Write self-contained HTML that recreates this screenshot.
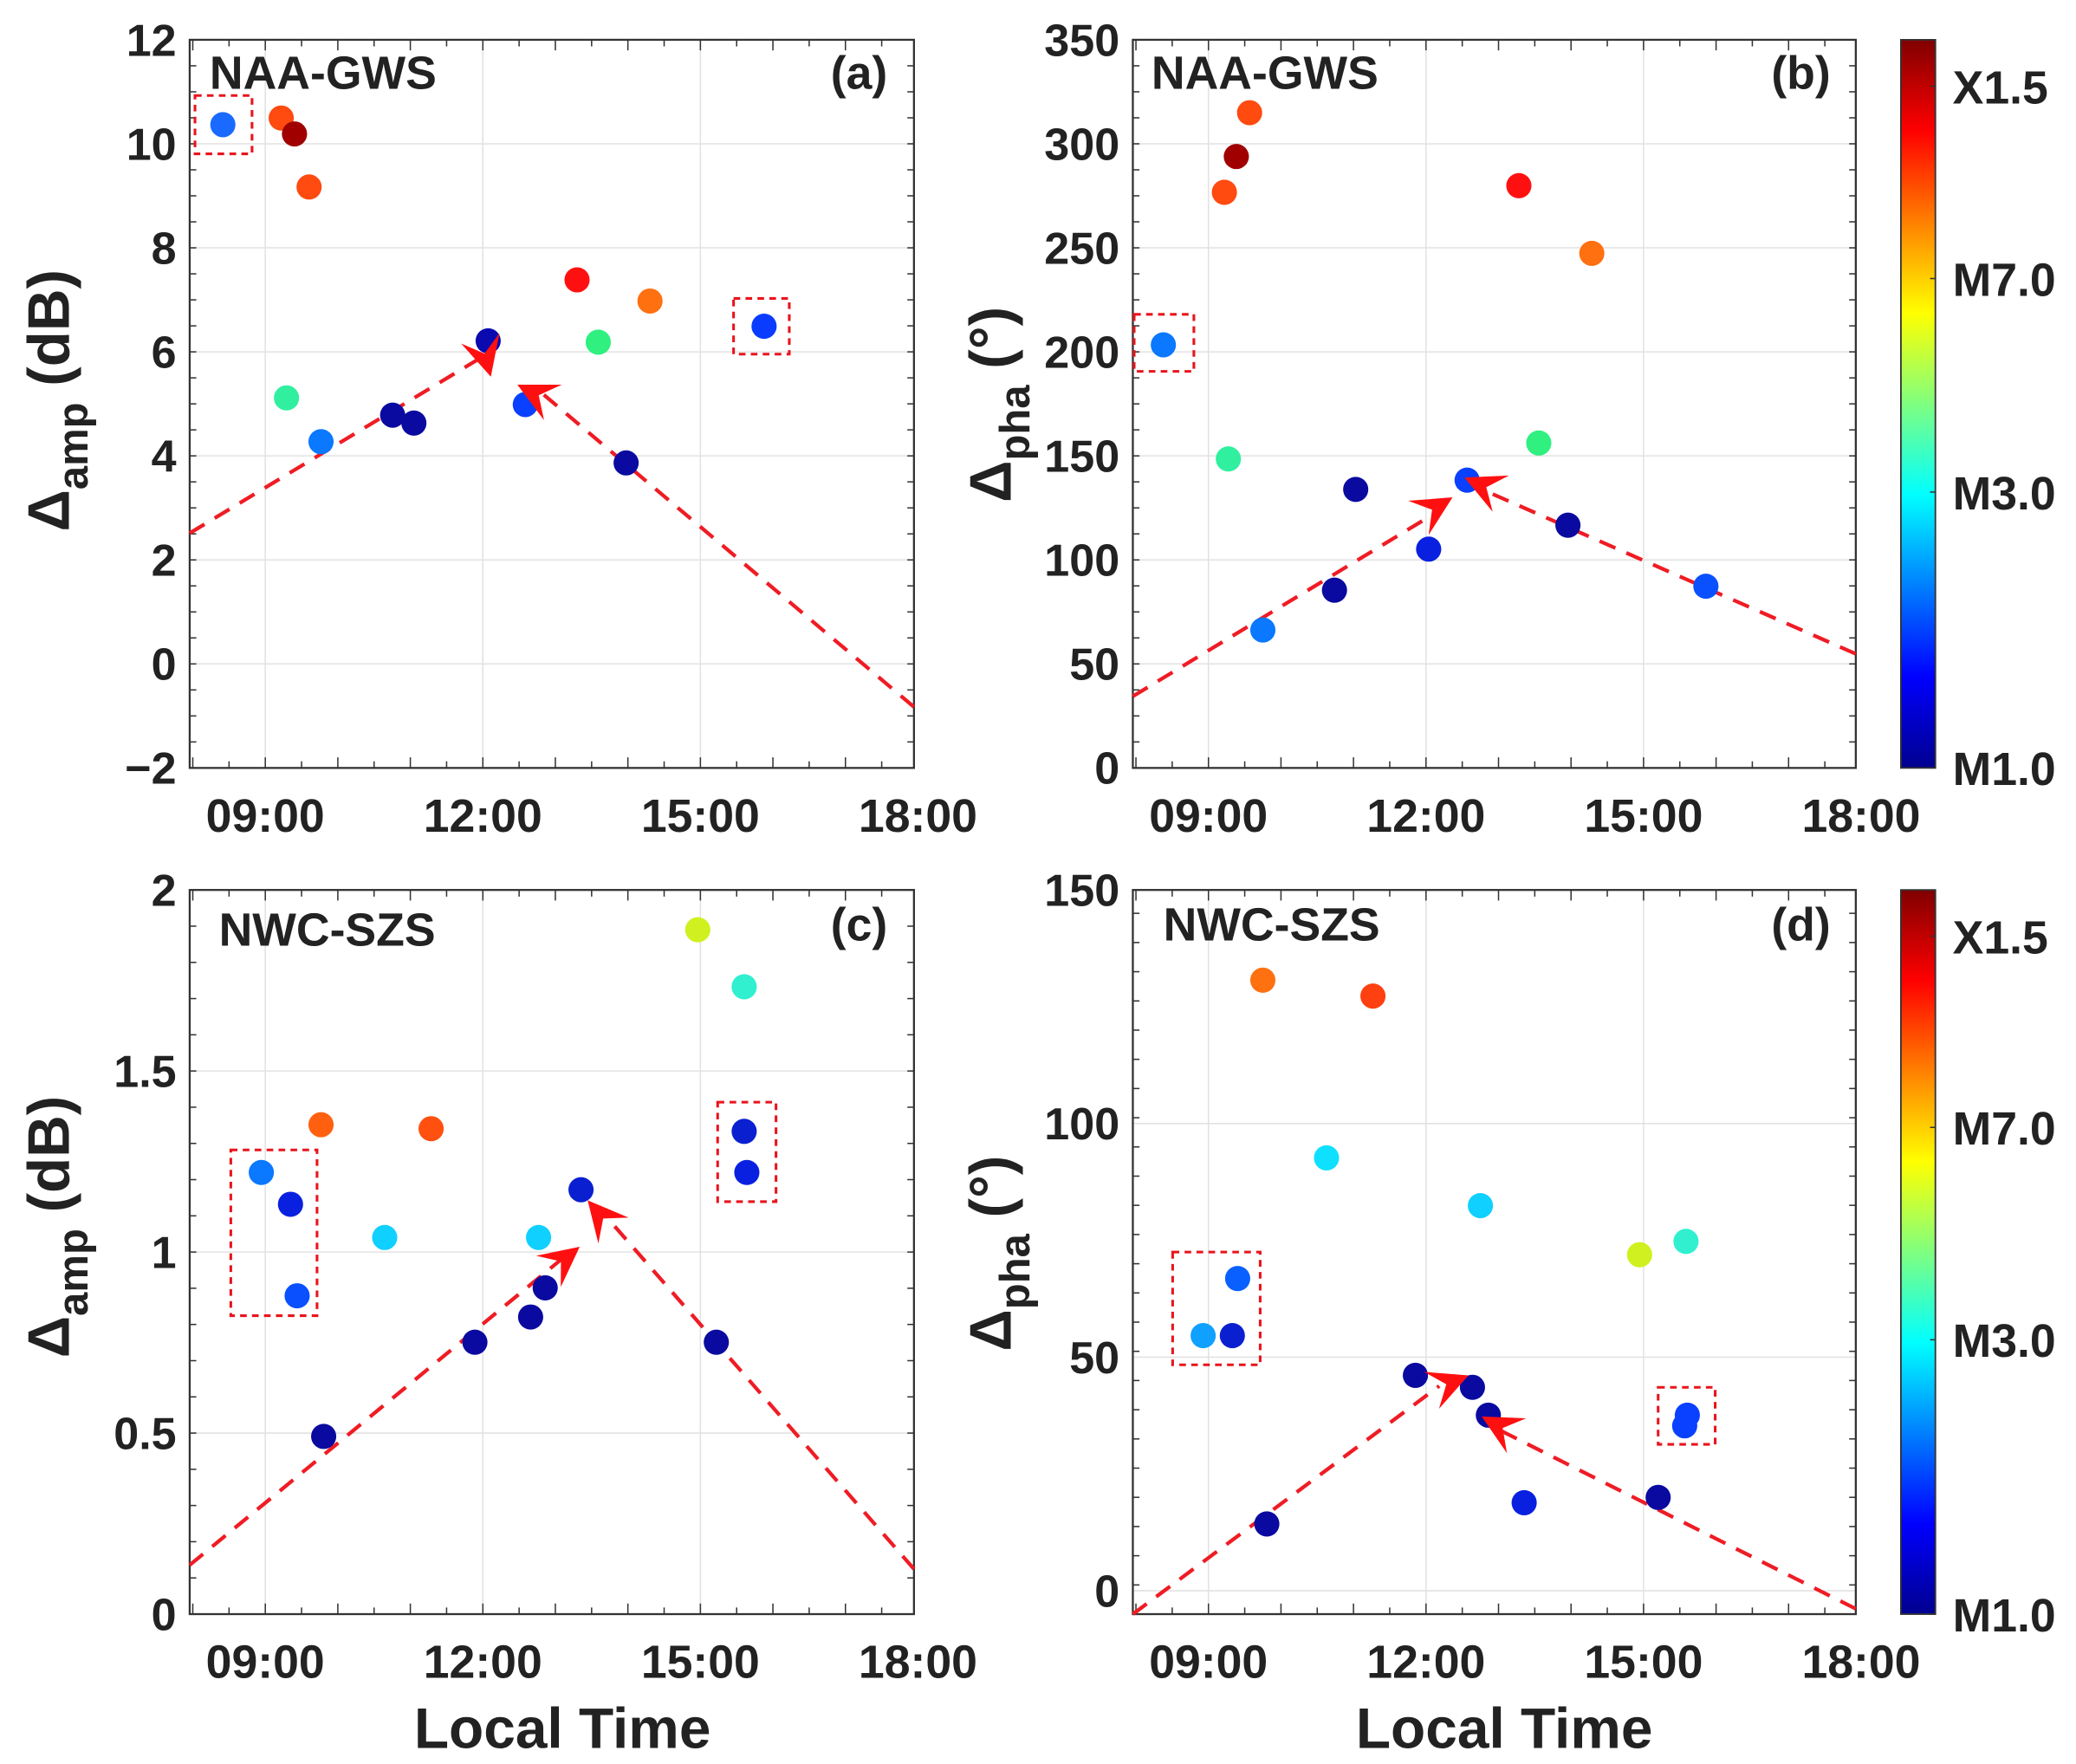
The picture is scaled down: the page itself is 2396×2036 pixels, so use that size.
<!DOCTYPE html>
<html><head><meta charset="utf-8"><style>
html,body{margin:0;padding:0;background:#fff;}
svg{display:block;}
text{font-family:"Liberation Sans",Arial,sans-serif;font-weight:bold;fill:#222;}
</style></head><body>
<svg id="s" width="2396" height="2036" viewBox="0 0 1565 1330" preserveAspectRatio="none" xmlns="http://www.w3.org/2000/svg">
<defs>
<linearGradient id="jet" x1="0" y1="1" x2="0" y2="0">
<stop offset="0" stop-color="#00008f"/><stop offset="0.125" stop-color="#0000ff"/>
<stop offset="0.375" stop-color="#00ffff"/><stop offset="0.625" stop-color="#ffff00"/>
<stop offset="0.875" stop-color="#ff0000"/><stop offset="1" stop-color="#800000"/>
</linearGradient>
</defs>
</svg>
<script>
const S=document.getElementById('s');
let out='';
function panel(L,T,R,B,yt,ylo,yhi,minorY){
 const xs=[200,364,528,692].map(v=>v-143+L);
 for(const x of xs.slice(0,3)) out+=`<line x1="${x}" y1="${T}" x2="${x}" y2="${B}" stroke="#e2e2e2" stroke-width="1"/>`;
 const ty=v=>B-(v-ylo)/(yhi-ylo)*(B-T);
 for(const v of yt){const y=ty(v); if(y>T+1&&y<B-1) out+=`<line x1="${L}" y1="${y}" x2="${R}" y2="${y}" stroke="#e2e2e2"/>`;}
 const pxh=(xs[1]-xs[0])/3;
 for(let t=8;t<=18;t+=0.5){const x=xs[0]+(t-9)*pxh; if(x<L||x>R+1)continue; const len=(t%1==0)?8:5;
  out+=`<line x1="${x}" y1="${B}" x2="${x}" y2="${B-len}" stroke="#333"/><line x1="${x}" y1="${T}" x2="${x}" y2="${T+len}" stroke="#333"/>`;}
 for(let v=ylo;v<=yhi+1e-9;v+=minorY){const y=ty(v);const len=5;
  out+=`<line x1="${L}" y1="${y}" x2="${L+len}" y2="${y}" stroke="#333"/><line x1="${R}" y1="${y}" x2="${R-len}" y2="${y}" stroke="#333"/>`;}
 out+=`<rect x="${L}" y="${T}" width="${R-L}" height="${B-T}" fill="none" stroke="#333" stroke-width="1.5"/>`;
 const labs=['09:00','12:00','15:00','18:00'];
 xs.forEach((x,i)=>out+=`<text x="${x}" y="${B+48}" font-size="35" text-anchor="middle">${labs[i]}</text>`);
 for(const v of yt){const y=ty(v); out+=`<text x="${L-10}" y="${y+12}" font-size="34" text-anchor="end">${v<0?'\u2212'+(-v):v}</text>`;}
}
panel(143,30,689,579,[-2,0,2,4,6,8,10,12],-2,12,0.5);
panel(854,30,1399,579,[0,50,100,150,200,250,300,350],0,350,12.5);
panel(143,671,689,1217,[0,0.5,1,1.5,2],0,2,0.1);
panel(854,671,1399,1217,[0,50,100,150],-5,150,6.25);
function box(x1,y1,x2,y2){out+=`<rect x="${x1}" y="${y1}" width="${x2-x1}" height="${y2-y1}" fill="none" stroke="#e8141c" stroke-width="2" stroke-dasharray="5,4"/>`;}
function dash(x1,y1,x2,y2){out+=`<line x1="${x1}" y1="${y1}" x2="${x2}" y2="${y2}" stroke="#ef1c24" stroke-width="2.8" stroke-dasharray="13,9"/>`;}
function arrow(x,y,fx,fy){const a=Math.atan2(y-fy,x-fx);const L=30,W=15;
 const bx=x-L*Math.cos(a),by=y-L*Math.sin(a);const nx=-Math.sin(a),ny=Math.cos(a);
 const mx=x-0.6*L*Math.cos(a),my=y-0.6*L*Math.sin(a);
 out+=`<polygon points="${x},${y} ${bx+nx*W},${by+ny*W} ${mx},${my} ${bx-nx*W},${by-ny*W}" fill="#ff1010"/>`;}
function dots(a){for(const [x,y,c] of a) out+=`<circle cx="${x}" cy="${y}" r="9.5" fill="${c}"/>`;}
const DB='#0a0aa0';
// (a)
box(147,72,190,116);box(553,225,595,267);
dash(143,402,362,270);dash(689,533,408,296);
dots([[168,94,'#1a6aff'],[212,89,'#ff4a10'],[222,101,'#a00000'],[233,141,'#ff4a10'],[435,211,'#ff1010'],[490,227,'#ff7010'],[451,258,'#30f080'],[576,246,'#0a3cff'],[216,300,'#30f0a0'],[242,333,'#0a78ff'],[296,313,DB],[312,319,DB],[368,257,'#0a0ab0'],[396,305,'#0a40ff'],[472,349,DB]]);
arrow(370,284,358,240);arrow(390,290,420,305);
// (b)
box(855,237,900,280);
dash(854,525,1085,385);dash(1399,493,1115,368);
dots([[877,260,'#0a78ff'],[923,145,'#ff4a10'],[932,118,'#a00000'],[942,85,'#ff4a10'],[1145,140,'#ff1010'],[1200,191,'#ff7010'],[926,346,'#30f0a0'],[1160,334,'#30f080'],[952,475,'#0a78ff'],[1006,445,DB],[1022,369,DB],[1077,414,'#0a20e0'],[1106,362,'#0a40ff'],[1182,396,DB],[1286,442,'#0a50ff']]);
arrow(1095,375,1040,408);arrow(1104,360,1160,385);
// (c)
box(174,867,239,992);box(541,831,585,906);
dash(143,1180,425,948);dash(689,1183,455,915);
dots([[526,701,'#d0f020'],[561,744,'#30f0d0'],[242,848,'#ff6010'],[325,851,'#ff5010'],[197,884,'#0a78ff'],[219,908,'#0a20e0'],[224,977,'#0a50ff'],[290,933,'#10d0ff'],[406,933,'#10d0ff'],[244,1083,DB],[358,1012,DB],[400,993,DB],[411,971,DB],[438,897,'#0a20d0'],[540,1012,DB],[561,853,'#0a20d0'],[563,884,'#0a20e0']]);
arrow(437,940,380,985);arrow(443,905,490,960);
// (d)
box(884,944,950,1029);box(1250,1046,1293,1089);
dash(854,1217,1085,1045);dash(1399,1213,1128,1077);
dots([[952,739,'#ff7010'],[1035,751,'#ff4010'],[1000,873,'#10e0ff'],[1116,909,'#10d0ff'],[1236,946,'#d0f020'],[1271,936,'#30f0d0'],[933,964,'#0a60ff'],[907,1007,'#10a0ff'],[929,1007,'#0a20d0'],[955,1149,DB],[1067,1037,DB],[1110,1046,DB],[1122,1067,DB],[1149,1133,'#0a20e0'],[1250,1129,DB],[1272,1067,'#0a40ff'],[1270,1075,'#0a40ff']]);
arrow(1107,1037,1050,1060);arrow(1117,1068,1175,1100);
function tl(x,y,t,anchor,sz){out+=`<text x="${x}" y="${y}" font-size="${sz||35}" text-anchor="${anchor||'start'}" fill="#111">${t}</text>`;}
tl(158,67,'NAA-GWS');tl(669,67,'(a)','end');
tl(868,67,'NAA-GWS');tl(1380,67,'(b)','end');
tl(165,713,'NWC-SZS');tl(669,709,'(c)','end');
tl(877,709,'NWC-SZS');tl(1380,709,'(d)','end');
tl(424,1318,'Local Time','middle',43);tl(1134,1318,'Local Time','middle',43);
function yl(x,y,sub,unit){out+=`<text transform="translate(${x},${y}) rotate(-90)" font-size="44" text-anchor="middle" fill="#222">\u0394<tspan font-size="32" dy="14">${sub}</tspan><tspan dy="-14" font-size="44">${unit}</tspan></text>`;}
yl(52,302,'amp',' (dB)');yl(762,305,'pha',' (\u00b0)');yl(52,925,'amp',' (dB)');yl(762,945,'pha',' (\u00b0)');
function cbar(T,B){out+=`<rect x="1433" y="${T}" width="26" height="${B-T}" fill="url(#jet)" stroke="#333" stroke-width="1.2"/>`;
 const H=B-T;const lab=[['X1.5',35/549],['M7.0',180/549],['M3.0',341/549],['M1.0',1]];
 for(const [t,f] of lab){const y=T+f*H; out+=`<line x1="1455" y1="${y}" x2="1459" y2="${y}" stroke="#333"/><text x="1472" y="${y+13}" font-size="35" fill="#222">${t}</text>`;}}
cbar(30,579);cbar(671,1217);
S.insertAdjacentHTML('beforeend',out);
</script>
</body></html>
